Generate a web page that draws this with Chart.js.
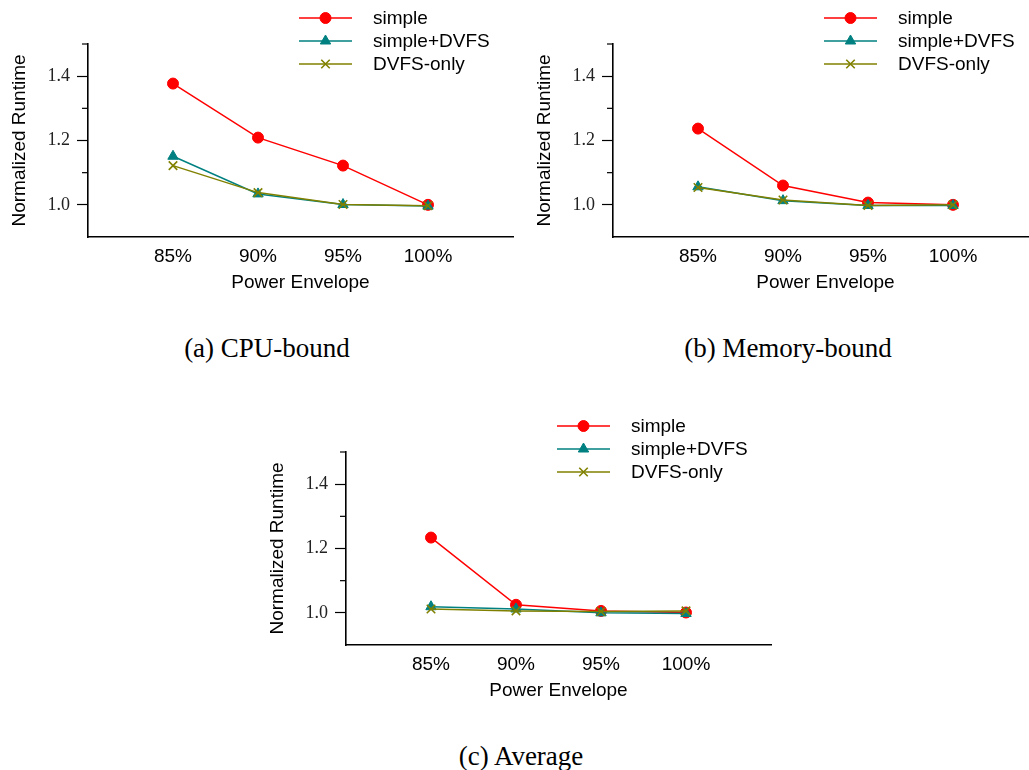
<!DOCTYPE html>
<html>
<head>
<meta charset="utf-8">
<script src="https://cdn.jsdelivr.net/npm/chart.js@4.4.1/dist/chart.umd.min.js"></script>
<style>
  html, body { margin: 0; padding: 0; background: #fff; }
  body { width: 1029px; height: 770px; overflow: hidden; position: relative; }
  .panel { position: absolute; }
  .cap {
    position: absolute;
    font-family: "Liberation Serif", "Times New Roman", serif;
    font-size: 27px;
    color: #000;
    transform: translate(-50%, -50%);
    white-space: nowrap;
  }
</style>
</head>
<body>
<div class="panel" style="left:0px;top:0px"><canvas id="cpu" width="521" height="300"></canvas></div>
<div class="panel" style="left:525px;top:0px"><canvas id="mem" width="521" height="300"></canvas></div>
<div class="panel" style="left:258px;top:408px"><canvas id="avg" width="521" height="300"></canvas></div>
<div class="cap" style="left:267px;top:348px">(a) CPU-bound</div>
<div class="cap" style="left:788px;top:348px">(b) Memory-bound</div>
<div class="cap" style="left:521px;top:756px">(c) Average</div>

<script>
const powerLevels = [85, 90, 95, 100];
const xTickLabels = ['85%', '90%', '95%', '100%'];
const yMajorTicks = [1.0, 1.2, 1.4];
const yMinorTicks = [1.1, 1.3, 1.5];
const seriesNames = ['simple', 'simple+DVFS', 'DVFS-only'];

const cpuSimple     = [1.377, 1.209, 1.122, 1.000];
const cpuSimpleDvfs = [1.151, 1.034, 1.001, 0.996];
const cpuDvfsOnly   = [1.122, 1.038, 1.001, 0.997];

const memSimple     = [1.237, 1.060, 1.007, 1.000];
const memSimpleDvfs = [1.056, 1.013, 0.998, 0.998];
const memDvfsOnly   = [1.054, 1.015, 0.998, 1.000];

const avgSimple     = [1.234, 1.025, 1.006, 1.001];
const avgSimpleDvfs = [1.019, 1.012, 1.000, 0.998];
const avgDvfsOnly   = [1.012, 1.006, 1.004, 1.006];

Chart.defaults.font.family = '"Liberation Sans", Arial, sans-serif';
Chart.defaults.color = '#000';

// short ticks between the labelled ones
const minorTicks = {
  id: 'minorTicks',
  afterDraw(chart) {
    const y = chart.scales.y;
    const ctx = chart.ctx;
    ctx.save();
    ctx.strokeStyle = '#000';
    ctx.lineWidth = 1.2;
    yMinorTicks.forEach(v => {
      const py = y.getPixelForValue(v);
      ctx.beginPath();
      ctx.moveTo(y.right - 6, py);
      ctx.lineTo(y.right, py);
      ctx.stroke();
    });
    ctx.restore();
  }
};

// legend with a line through the marker, like the original
const lineLegend = {
  id: 'lineLegend',
  afterDraw(chart) {
    const { ctx, chartArea } = chart;
    const x0 = chartArea.left + 211;
    const x1 = chartArea.left + 264;
    const tx = chartArea.left + 285;
    chart.data.datasets.forEach((ds, i) => {
      const y = chartArea.top - 26 + i * 23;
      ctx.save();
      ctx.strokeStyle = ds.borderColor;
      ctx.lineWidth = ds.borderWidth;
      ctx.beginPath();
      ctx.moveTo(x0, y);
      ctx.lineTo(x1, y);
      ctx.stroke();
      ctx.fillStyle = ds.pointBackgroundColor;
      ctx.strokeStyle = ds.pointBorderColor;
      ctx.lineWidth = ds.pointBorderWidth;
      Chart.helpers.drawPoint(ctx, {
        pointStyle: ds.pointStyle, radius: ds.pointRadius,
        borderWidth: ds.pointBorderWidth, rotation: 0
      }, (x0 + x1) / 2, y);
      ctx.fillStyle = '#000';
      ctx.font = '19px "Liberation Sans", Arial, sans-serif';
      ctx.textBaseline = 'middle';
      ctx.textAlign = 'left';
      ctx.fillText(ds.label, tx, y + 1);
      ctx.restore();
    });
  }
};

function series(label, values, color, style, radius, order) {
  return {
    label,
    data: values.map((v, i) => ({ x: powerLevels[i], y: v })),
    borderColor: color,
    backgroundColor: color,
    pointBackgroundColor: color,
    pointBorderColor: color,
    pointBorderWidth: style === 'crossRot' ? 1.6 : 1,
    borderWidth: 1.5,
    pointStyle: style,
    pointRadius: radius,
    order
  };
}

function makeChart(id, simple, simpleDvfs, dvfsOnly) {
  const ctx = document.getElementById(id).getContext('2d');
  return new Chart(ctx, {
    type: 'line',
    data: {
      datasets: [
        series(seriesNames[0], simple, '#ff0000', 'circle', 5.5, 2),
        series(seriesNames[1], simpleDvfs, '#008080', 'triangle', 6, 1),
        series(seriesNames[2], dvfsOnly, '#808000', 'crossRot', 6, 0)
      ]
    },
    options: {
      responsive: false,
      animation: false,
      events: [],
      layout: { padding: { left: 0, right: 8, top: 44, bottom: 0 } },
      plugins: { legend: { display: false }, tooltip: { enabled: false } },
      scales: {
        x: {
          type: 'linear',
          min: 80,
          max: 105,
          afterFit: s => { s.height = 63; },
          afterBuildTicks: s => { s.ticks = powerLevels.map(v => ({ value: v })); },
          grid: { drawOnChartArea: false, drawTicks: false },
          border: { color: '#000', width: 1.6 },
          ticks: {
            padding: 8,
            font: { size: 19 },
            callback: (v, i) => xTickLabels[i]
          },
          title: {
            display: true,
            text: 'Power Envelope',
            font: { size: 19 },
            padding: { top: 0, bottom: 6 }
          }
        },
        y: {
          min: 0.9,
          max: 1.5,
          afterFit: s => { s.width = 88; },
          afterBuildTicks: s => { s.ticks = yMajorTicks.map(v => ({ value: v })); },
          grid: { drawOnChartArea: false, tickLength: 11, tickColor: '#000', tickWidth: 1.2 },
          border: { color: '#000', width: 1.6 },
          ticks: {
            padding: 7,
            color: '#222',
            font: { family: '"Liberation Serif", "Times New Roman", serif', size: 18 },
            callback: v => v.toFixed(1)
          },
          title: {
            display: true,
            text: 'Normalized Runtime',
            font: { size: 19 },
            padding: { top: 8, bottom: 0 }
          }
        }
      }
    },
    plugins: [minorTicks, lineLegend]
  });
}

makeChart('cpu', cpuSimple, cpuSimpleDvfs, cpuDvfsOnly);
makeChart('mem', memSimple, memSimpleDvfs, memDvfsOnly);
makeChart('avg', avgSimple, avgSimpleDvfs, avgDvfsOnly);
</script>
</body>
</html>
